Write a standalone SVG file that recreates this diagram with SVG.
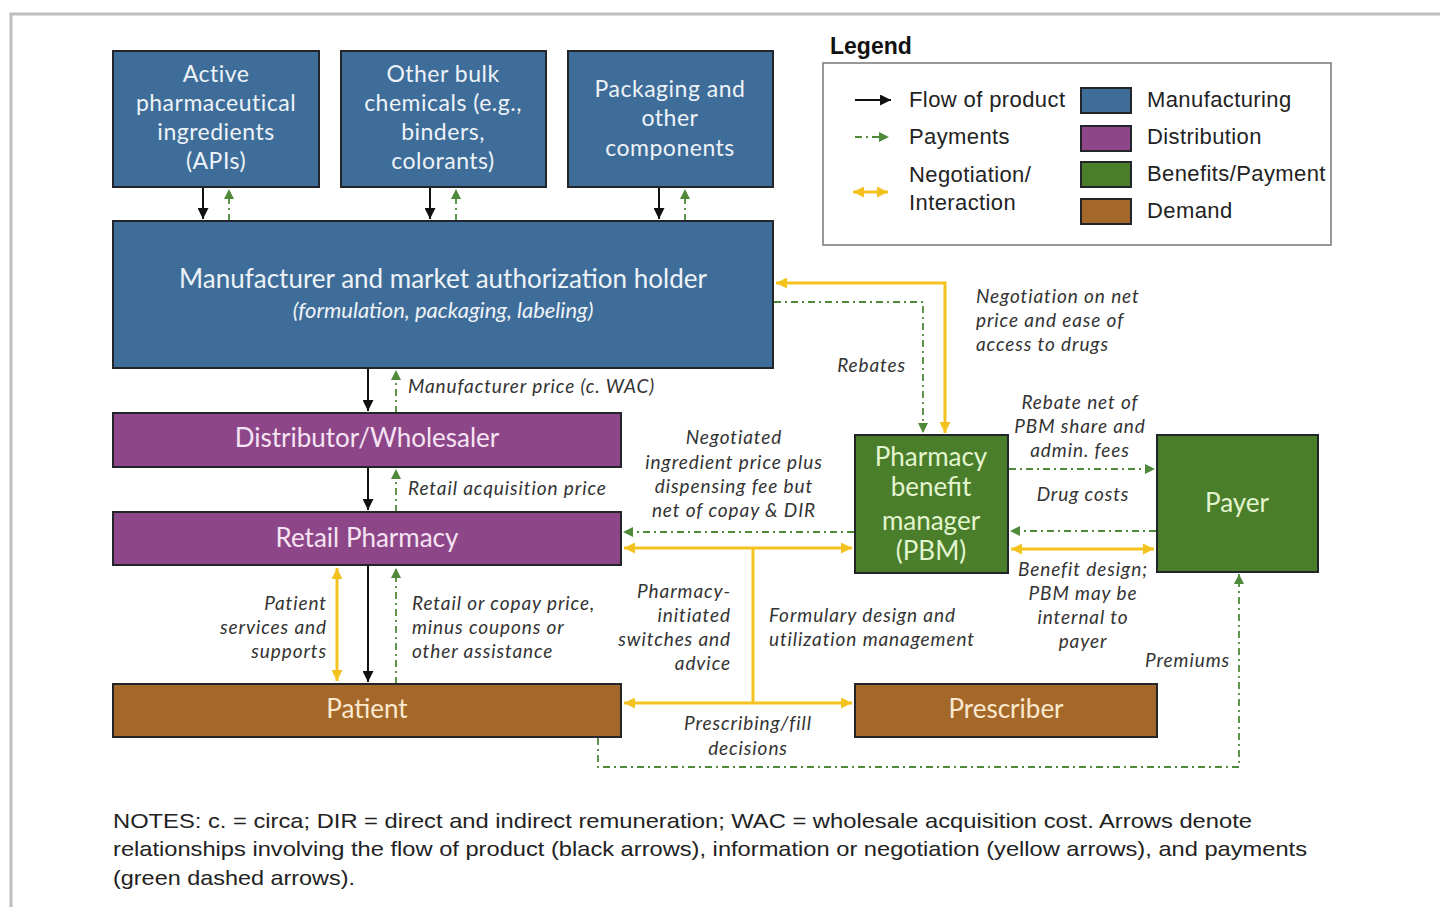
<svg xmlns="http://www.w3.org/2000/svg" width="1440" height="907" viewBox="0 0 1440 907">
<style>
.box{stroke:#22262a;stroke-width:2}
.mfg{fill:#3f6d99}
.dist{fill:#8d4788}
.ben{fill:#4a7e2b}
.dem{fill:#a5682b}
.bt{font-family:Lato,"Liberation Sans",sans-serif;text-anchor:middle}
.tb{fill:#eef3f8}
.td{fill:#f6e3f3}
.tg{fill:#e3f5cf}
.tr{fill:#fbe9cf}
.lbl{font-family:Lato,"Liberation Sans",sans-serif;font-style:italic;font-size:19px;letter-spacing:0.9px;fill:#333}
.leg{font-family:"Liberation Sans",Arial,sans-serif;font-size:22px;letter-spacing:0.4px;fill:#222}
.prod{stroke:#111;stroke-width:2;fill:none}
.pay{stroke:#4f8a3a;stroke-width:1.8;fill:none;stroke-dasharray:7 4 2 4}
.neg{stroke:#f4c21f;stroke-width:3;fill:none}
.note{font-family:"Liberation Sans",Arial,sans-serif;font-size:21px;fill:#222}
</style>
<defs>
<marker id="mb" viewBox="0 0 10 10" refX="10" refY="5" markerWidth="11" markerHeight="11" markerUnits="userSpaceOnUse" orient="auto"><path d="M0,0 L10,5 L0,10 z" fill="#111"/></marker>
<marker id="mg" viewBox="0 0 10 10" refX="10" refY="5" markerWidth="10" markerHeight="10" markerUnits="userSpaceOnUse" orient="auto"><path d="M0,0 L10,5 L0,10 z" fill="#4f8a3a"/></marker>
<marker id="my" viewBox="0 0 10 10" refX="10" refY="5" markerWidth="11" markerHeight="11" markerUnits="userSpaceOnUse" orient="auto-start-reverse"><path d="M0,0 L10,5 L0,10 z" fill="#f4c21f"/></marker>
</defs>
<rect x="0" y="0" width="1440" height="907" fill="#fff"/>
<rect x="11" y="14" width="1440" height="900" fill="#fff" stroke="#bdbdbd" stroke-width="3"/>

<g id="connectors">
<path class="prod" d="M203 188 V219" marker-end="url(#mb)"/>
<path class="pay" d="M229 221 V189" marker-end="url(#mg)"/>
<path class="prod" d="M430 188 V219" marker-end="url(#mb)"/>
<path class="pay" d="M456 221 V189" marker-end="url(#mg)"/>
<path class="prod" d="M659 188 V219" marker-end="url(#mb)"/>
<path class="pay" d="M685 221 V189" marker-end="url(#mg)"/>
<path class="prod" d="M368 369 V411" marker-end="url(#mb)"/>
<path class="pay" d="M396 413 V370" marker-end="url(#mg)"/>
<path class="prod" d="M368 468 V510" marker-end="url(#mb)"/>
<path class="pay" d="M396 512 V469" marker-end="url(#mg)"/>
<path class="neg" d="M337 568 V681" marker-start="url(#my)" marker-end="url(#my)"/>
<path class="prod" d="M368 566 V682" marker-end="url(#mb)"/>
<path class="pay" d="M396 684 V568" marker-end="url(#mg)"/>
<path class="neg" d="M945 433 V283 H776" marker-start="url(#my)" marker-end="url(#my)"/>
<path class="pay" d="M774 302 H923 V433" marker-end="url(#mg)"/>
<path class="pay" d="M1009 469 H1155" marker-end="url(#mg)"/>
<path class="pay" d="M1156 531 H1010" marker-end="url(#mg)"/>
<path class="neg" d="M1011 549 H1154" marker-start="url(#my)" marker-end="url(#my)"/>
<path class="pay" d="M854 532 H623" marker-end="url(#mg)"/>
<path class="neg" d="M624 548 H852" marker-start="url(#my)" marker-end="url(#my)"/>
<path class="neg" d="M753 548 V703"/>
<path class="neg" d="M624 703 H852" marker-start="url(#my)" marker-end="url(#my)"/>
<path class="pay" d="M598 738 V767 H1239 V574" marker-end="url(#mg)"/>
</g>

<g id="node-api">
<rect class="box mfg" x="113" y="51" width="206" height="136"/>
<text class="bt tb" font-size="23" letter-spacing="0.5"><tspan x="216" y="82">Active</tspan><tspan x="216" y="111">pharmaceutical</tspan><tspan x="216" y="140">ingredients</tspan><tspan x="216" y="169">(APIs)</tspan></text>
</g>
<g id="node-bulk">
<rect class="box mfg" x="341" y="51" width="205" height="136"/>
<text class="bt tb" font-size="23" letter-spacing="0.5"><tspan x="443" y="82">Other bulk</tspan><tspan x="443" y="111">chemicals (e.g.,</tspan><tspan x="443" y="140">binders,</tspan><tspan x="443" y="169">colorants)</tspan></text>
</g>
<g id="node-packaging">
<rect class="box mfg" x="568" y="51" width="205" height="136"/>
<text class="bt tb" font-size="23" letter-spacing="0.5"><tspan x="670" y="97">Packaging and</tspan><tspan x="670" y="126">other</tspan><tspan x="670" y="156">components</tspan></text>
</g>
<g id="node-manufacturer">
<rect class="box mfg" x="113" y="221" width="660" height="147"/>
<text class="bt tb" font-size="26" x="443" y="288">Manufacturer and market authorization holder</text>
<text class="bt tb" font-size="22" font-style="italic" x="443" y="318">(formulation, packaging, labeling)</text>
</g>
<g id="node-distributor">
<rect class="box dist" x="113" y="413" width="508" height="54"/>
<text class="bt td" font-size="26" x="367" y="447">Distributor/Wholesaler</text>
</g>
<g id="node-retail">
<rect class="box dist" x="113" y="512" width="508" height="53"/>
<text class="bt td" font-size="26" x="367" y="547">Retail Pharmacy</text>
</g>
<g id="node-patient">
<rect class="box dem" x="113" y="684" width="508" height="53"/>
<text class="bt tr" font-size="26" x="367" y="718">Patient</text>
</g>
<g id="node-prescriber">
<rect class="box dem" x="855" y="684" width="302" height="53"/>
<text class="bt tr" font-size="26" x="1006" y="718">Prescriber</text>
</g>
<g id="node-pbm">
<rect class="box ben" x="855" y="435" width="153" height="138"/>
<text class="bt tg" font-size="26"><tspan x="931" y="466">Pharmacy</tspan><tspan x="931" y="496">benefit</tspan><tspan x="931" y="530">manager</tspan><tspan x="931" y="560">(PBM)</tspan></text>
</g>
<g id="node-payer">
<rect class="box ben" x="1157" y="435" width="161" height="137"/>
<text class="bt tg" font-size="26" x="1237" y="512">Payer</text>
</g>

<g id="labels">
<text class="lbl" x="408" y="393">Manufacturer price (c. WAC)</text>
<text class="lbl" x="408" y="495">Retail acquisition price</text>
<text class="lbl" text-anchor="end"><tspan x="327" y="610">Patient</tspan><tspan x="327" y="634">services and</tspan><tspan x="327" y="658">supports</tspan></text>
<text class="lbl"><tspan x="412" y="610">Retail or copay price,</tspan><tspan x="412" y="634">minus coupons or</tspan><tspan x="412" y="658">other assistance</tspan></text>
<text class="lbl" text-anchor="end" x="906" y="372">Rebates</text>
<text class="lbl"><tspan x="976" y="303">Negotiation on net</tspan><tspan x="976" y="327">price and ease of</tspan><tspan x="976" y="351">access to drugs</tspan></text>
<text class="lbl" text-anchor="middle"><tspan x="1080" y="409">Rebate net of</tspan><tspan x="1080" y="433">PBM share and</tspan><tspan x="1080" y="457">admin. fees</tspan></text>
<text class="lbl" text-anchor="middle" x="1083" y="501">Drug costs</text>
<text class="lbl" text-anchor="middle"><tspan x="1083" y="576">Benefit design;</tspan><tspan x="1083" y="600">PBM may be</tspan><tspan x="1083" y="624">internal to</tspan><tspan x="1083" y="648">payer</tspan></text>
<text class="lbl" text-anchor="end" x="1230" y="667">Premiums</text>
<text class="lbl" text-anchor="middle"><tspan x="734" y="444">Negotiated</tspan><tspan x="734" y="469">ingredient price plus</tspan><tspan x="734" y="493">dispensing fee but</tspan><tspan x="734" y="517">net of copay &amp; DIR</tspan></text>
<text class="lbl" text-anchor="end"><tspan x="731" y="598">Pharmacy-</tspan><tspan x="731" y="622">initiated</tspan><tspan x="731" y="646">switches and</tspan><tspan x="731" y="670">advice</tspan></text>
<text class="lbl"><tspan x="769" y="622">Formulary design and</tspan><tspan x="769" y="646">utilization management</tspan></text>
<text class="lbl" text-anchor="middle"><tspan x="748" y="730">Prescribing/fill</tspan><tspan x="748" y="755">decisions</tspan></text>
</g>

<g id="legend">
<text x="830" y="54" font-family="'Liberation Sans',Arial,sans-serif" font-size="23" font-weight="bold" fill="#111">Legend</text>
<rect x="823" y="63" width="508" height="182" fill="#fff" stroke="#777" stroke-width="1.5"/>
<path class="prod" d="M855 100 H891" marker-end="url(#mb)"/>
<path class="pay" d="M855 137 H889" marker-end="url(#mg)"/>
<path class="neg" d="M853 192 H888" marker-start="url(#my)" marker-end="url(#my)"/>
<text class="leg" x="909" y="107">Flow of product</text>
<text class="leg" x="909" y="144">Payments</text>
<text class="leg"><tspan x="909" y="182">Negotiation/</tspan><tspan x="909" y="210">Interaction</tspan></text>
<rect class="box mfg" x="1081" y="88" width="50" height="25"/>
<rect class="box dist" x="1081" y="126" width="50" height="25"/>
<rect class="box ben" x="1081" y="162" width="50" height="25"/>
<rect class="box dem" x="1081" y="199" width="50" height="25"/>
<text class="leg" x="1147" y="107">Manufacturing</text>
<text class="leg" x="1147" y="144">Distribution</text>
<text class="leg" x="1147" y="181">Benefits/Payment</text>
<text class="leg" x="1147" y="218">Demand</text>
</g>

<g id="notes">
<text class="note" x="113" y="828" textLength="1139" lengthAdjust="spacingAndGlyphs">NOTES: c. = circa; DIR = direct and indirect remuneration; WAC = wholesale acquisition cost. Arrows denote</text>
<text class="note" x="113" y="856" textLength="1194" lengthAdjust="spacingAndGlyphs">relationships involving the flow of product (black arrows), information or negotiation (yellow arrows), and payments</text>
<text class="note" x="113" y="885" textLength="242" lengthAdjust="spacingAndGlyphs">(green dashed arrows).</text>
</g>
</svg>
